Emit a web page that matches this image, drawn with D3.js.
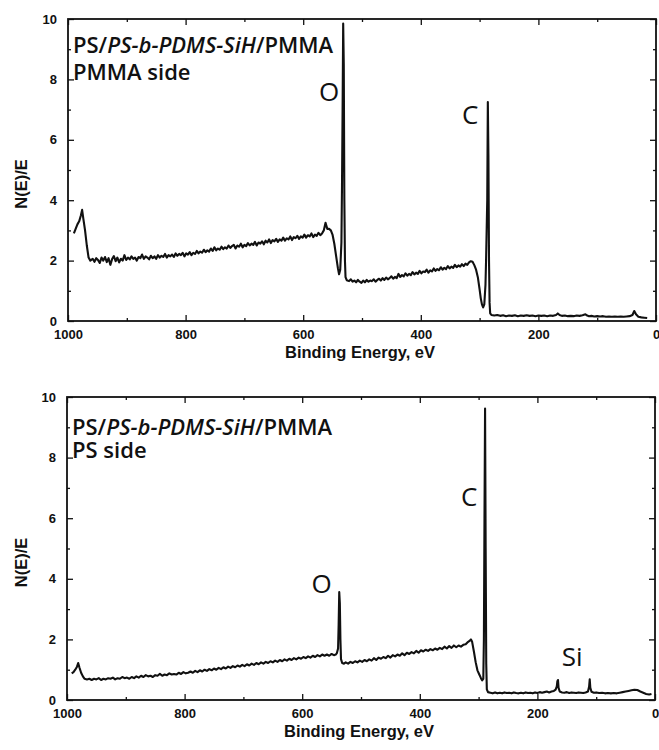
<!DOCTYPE html>
<html lang="en">
<head>
<meta charset="UTF-8">
<title>XPS survey</title>
<script src="https://cdn.jsdelivr.net/npm/d3@7"></script>
<style>
  body { margin: 0; background: #fff; }
  .tick text { font-family: "Liberation Sans", Arial, sans-serif; font-weight: bold; font-size: 13px; fill: #111; }
  .axTitle { font-family: "Liberation Sans", Arial, sans-serif; font-weight: bold; font-size: 16.5px; fill: #111; }
  .note { font-family: "Open Sans", "Noto Sans", sans-serif; font-weight: 600; font-size: 22px; fill: #111; }
  .peak { font-family: "Open Sans", "Noto Sans", sans-serif; font-weight: 400; font-size: 26px; fill: #111; }
</style>
</head>
<body>
<div id="chart"></div>
<script>
// spectra: [binding energy eV, N(E)/E]
const pmmaSide = [
  [990,2.90],[987,3.05],[984,3.20],[981,3.30],[978,3.50],[976,3.68],[974,3.40],[971,3.00],[968,2.50],[965,2.10],
  [962,2.00],[958,2.06],[955,1.96],[952,2.08],[949,2.02],[946,1.92],[943,2.10],[940,2.00],[937,2.12],[934,1.95],
  [931,2.08],[928,1.86],[925,2.05],[922,2.15],[919,1.98],[916,2.10],[913,1.94],[910,2.06],[907,2.00],[904,2.18],
  [901,2.02],[898,2.10],[895,2.04],[892,2.14],[889,2.06],[886,2.10],[883,2.00],[880,2.12],[877,2.08],[874,2.20],
  [871,2.06],[868,2.14],[865,2.10],[862,2.04],[859,2.16],[856,2.08],[853,2.14],[850,2.06],[847,2.18],[844,2.10],
  [841,2.16],[838,2.12],[835,2.22],[832,2.10],[829,2.18],[826,2.14],[823,2.20],[820,2.12],[817,2.24],[814,2.16],
  [811,2.22],[808,2.18],[805,2.26],[802,2.14],[799,2.24],[796,2.20],[793,2.28],[790,2.18],[787,2.26],[784,2.22],
  [781,2.32],[778,2.24],[775,2.30],[772,2.26],[769,2.36],[766,2.28],[763,2.34],[760,2.30],[757,2.40],[754,2.32],
  [751,2.44],[748,2.34],[745,2.40],[742,2.36],[739,2.46],[736,2.38],[733,2.44],[730,2.40],[727,2.50],[724,2.42],
  [721,2.48],[718,2.52],[715,2.40],[712,2.50],[709,2.46],[706,2.56],[703,2.44],[700,2.52],[697,2.48],[694,2.58],
  [691,2.50],[688,2.56],[685,2.52],[682,2.62],[679,2.50],[676,2.60],[673,2.56],[670,2.64],[667,2.54],[664,2.66],
  [661,2.60],[658,2.70],[655,2.58],[652,2.68],[649,2.64],[646,2.72],[643,2.62],[640,2.70],[637,2.66],[634,2.76],
  [631,2.66],[628,2.74],[625,2.70],[622,2.80],[619,2.68],[616,2.78],[613,2.74],[610,2.82],[607,2.72],[604,2.80],
  [601,2.76],[598,2.86],[595,2.76],[592,2.84],[589,2.80],[586,2.90],[583,2.78],[580,2.86],[577,2.82],[574,2.92],
  [571,2.84],[568,2.90],[565,3.00],[562,3.25],[559,3.05],[556,3.05],[553,3.00],[550,2.85],[547,2.55],[544,2.15],
  [541,1.75],[539,1.55],[537,1.70],[535,2.60],[534,4.50],[533,7.00],[532,9.85],[531,8.50],[530,4.00],[529,2.00],
  [528,1.45],[526,1.35],[522,1.32],[519,1.38],[516,1.30],[513,1.34],[510,1.28],[507,1.36],[504,1.30],[501,1.26],
  [498,1.34],[495,1.28],[492,1.36],[489,1.30],[486,1.34],[483,1.32],[480,1.38],[477,1.30],[474,1.36],[471,1.40],
  [468,1.34],[465,1.42],[462,1.36],[459,1.44],[456,1.38],[453,1.42],[450,1.48],[447,1.40],[444,1.46],[441,1.42],
  [438,1.56],[435,1.46],[432,1.52],[429,1.48],[426,1.58],[423,1.50],[420,1.56],[417,1.52],[414,1.62],[411,1.54],
  [408,1.60],[405,1.56],[402,1.66],[399,1.58],[396,1.64],[393,1.62],[390,1.70],[387,1.60],[384,1.68],[381,1.64],
  [378,1.74],[375,1.66],[372,1.72],[369,1.68],[366,1.78],[363,1.70],[360,1.76],[357,1.72],[354,1.82],[351,1.74],
  [348,1.80],[345,1.76],[342,1.86],[339,1.78],[336,1.84],[333,1.80],[330,1.88],[327,1.82],[324,1.90],[321,1.86],
  [318,1.94],[315,1.98],[312,1.96],[309,1.85],[306,1.70],[303,1.45],[300,1.05],[298,0.75],[296,0.55],[294,0.45],
  [292,0.55],[290,1.20],[289,2.00],[287,4.00],[286,7.25],[285,5.50],[284,2.00],[283,0.60],[282,0.25],[280,0.20],
  [275,0.18],[270,0.20],[265,0.17],[260,0.19],[255,0.16],[250,0.18],[245,0.17],[240,0.19],[235,0.16],[230,0.18],
  [225,0.17],[220,0.19],[215,0.17],[210,0.18],[205,0.16],[200,0.18],[195,0.17],[190,0.18],[185,0.16],[180,0.18],
  [175,0.17],[170,0.20],[167,0.25],[164,0.20],[160,0.17],[155,0.18],[150,0.16],[145,0.17],[140,0.16],[135,0.18],
  [130,0.17],[125,0.19],[120,0.22],[117,0.18],[114,0.16],[110,0.17],[105,0.15],[100,0.16],[95,0.15],[90,0.16],
  [85,0.14],[80,0.15],[75,0.14],[70,0.15],[65,0.14],[60,0.15],[55,0.14],[50,0.15],[45,0.16],[40,0.20],
  [37,0.33],[34,0.22],[30,0.14],[25,0.12],[20,0.11],[15,0.10]
];

const psSide = [
  [992,0.88],[989,0.92],[986,1.00],[983,1.10],[981,1.22],[979,1.08],[976,0.90],[973,0.78],[970,0.70],[966,0.68],
  [962,0.70],[958,0.66],[954,0.70],[950,0.68],[946,0.72],[942,0.66],[938,0.70],[934,0.68],[930,0.72],[926,0.70],
  [922,0.74],[918,0.68],[914,0.72],[910,0.70],[906,0.76],[902,0.72],[898,0.74],[894,0.70],[890,0.76],[886,0.72],
  [882,0.78],[878,0.74],[874,0.80],[870,0.76],[866,0.82],[862,0.78],[858,0.80],[854,0.76],[850,0.82],[846,0.80],
  [842,0.86],[838,0.80],[834,0.84],[830,0.82],[826,0.88],[822,0.84],[818,0.86],[814,0.84],[810,0.90],[806,0.86],
  [802,0.92],[798,0.88],[794,0.90],[790,0.94],[786,0.90],[782,0.96],[778,0.92],[774,0.98],[770,0.94],[766,1.00],
  [762,0.96],[758,1.02],[754,0.98],[750,1.04],[746,1.00],[742,1.06],[738,1.02],[734,1.08],[730,1.04],[726,1.10],
  [722,1.06],[718,1.12],[714,1.08],[710,1.14],[706,1.10],[702,1.16],[698,1.12],[694,1.18],[690,1.14],[686,1.20],
  [682,1.16],[678,1.22],[674,1.18],[670,1.24],[666,1.20],[662,1.26],[658,1.22],[654,1.28],[650,1.24],[646,1.30],
  [642,1.26],[638,1.32],[634,1.28],[630,1.34],[626,1.30],[622,1.36],[618,1.32],[614,1.38],[610,1.34],[606,1.40],
  [602,1.36],[598,1.42],[594,1.38],[590,1.44],[586,1.40],[582,1.46],[578,1.42],[574,1.48],[570,1.44],[566,1.50],
  [562,1.46],[558,1.50],[554,1.46],[550,1.52],[546,1.48],[543,1.50],[541,1.55],[539,1.70],[538,2.50],[537,3.56],
  [536,3.20],[535,2.00],[534,1.35],[532,1.22],[529,1.20],[526,1.24],[522,1.20],[518,1.26],[514,1.22],[510,1.28],
  [506,1.24],[502,1.30],[498,1.26],[494,1.32],[490,1.28],[486,1.34],[482,1.30],[478,1.38],[474,1.32],[470,1.40],
  [466,1.36],[462,1.42],[458,1.38],[454,1.46],[450,1.40],[446,1.48],[442,1.44],[438,1.50],[434,1.46],[430,1.54],
  [426,1.48],[422,1.56],[418,1.52],[414,1.58],[410,1.54],[406,1.62],[402,1.56],[398,1.64],[394,1.60],[390,1.66],
  [386,1.62],[382,1.68],[378,1.64],[374,1.70],[370,1.66],[366,1.72],[362,1.68],[358,1.76],[354,1.70],[350,1.78],
  [346,1.72],[342,1.80],[338,1.74],[334,1.80],[330,1.76],[326,1.82],[322,1.84],[319,1.90],[316,1.94],[313,2.00],
  [311,1.92],[308,1.60],[305,1.25],[302,0.98],[299,0.85],[296,0.72],[294,0.65],[292,0.70],[291,2.00],[290,6.00],
  [289,9.62],[288,5.00],[287,1.20],[286,0.35],[284,0.26],[280,0.24],[276,0.22],[272,0.25],[268,0.22],[264,0.24],
  [260,0.22],[256,0.25],[252,0.23],[248,0.24],[244,0.22],[240,0.25],[236,0.23],[232,0.22],[228,0.24],[224,0.22],
  [220,0.25],[216,0.23],[212,0.24],[208,0.22],[204,0.25],[200,0.23],[196,0.26],[192,0.24],[188,0.26],[184,0.28],
  [180,0.25],[176,0.28],[172,0.30],[169,0.34],[167,0.45],[166,0.62],[165,0.66],[164,0.40],[162,0.28],[158,0.25],
  [154,0.24],[150,0.26],[146,0.23],[142,0.25],[138,0.24],[134,0.23],[130,0.25],[126,0.24],[122,0.23],[118,0.25],
  [114,0.28],[112,0.45],[111,0.68],[110,0.40],[108,0.27],[104,0.24],[100,0.25],[95,0.23],[90,0.24],[85,0.22],
  [80,0.23],[75,0.22],[70,0.23],[65,0.22],[60,0.24],[55,0.26],[50,0.28],[45,0.30],[40,0.32],[35,0.34],
  [30,0.33],[25,0.28],[20,0.24],[15,0.20],[10,0.18],[6,0.20]
];

const xMajor = [1000, 800, 600, 400, 200, 0];
const xMinor = [900, 700, 500, 300, 100];
const yMajor = [0, 2, 4, 6, 8, 10];
const yMinor = [1, 3, 5, 7, 9];

// sample name, middle part set in italics
const titleParts = ['PS/', 'PS-b-PDMS-SiH', '/PMMA'];
const sideTop = 'PMMA side';
const sideBottom = 'PS side';

// peak labels: [text, energy, N(E)/E]
const peaksTop = [['O', 556, 7.6], ['C', 316, 6.85]];
const peaksBottom = [['O', 567, 3.86], ['C', 316, 6.72], ['Si', 141, 1.45]];

var width = 659, height = 750;

var svg = d3.select('#chart').append('svg')
    .attr('width', width)
    .attr('height', height);

function panel(data, sub, peaks, box) {
    var x = d3.scaleLinear().domain([1000, 0]).range([box.left, box.right]);
    var y = d3.scaleLinear().domain([0, 10]).range([box.bottom, box.top]);
    var g = svg.append('g');

    // inward ticks on all four sides
    g.append('g').attr('transform', `translate(0,${box.bottom})`)
        .call(d3.axisBottom(x).tickValues(xMajor).tickSize(-6).tickPadding(9).tickFormat(d3.format('d')));
    g.append('g').attr('transform', `translate(0,${box.bottom})`)
        .call(d3.axisBottom(x).tickValues(xMinor).tickSize(-3).tickFormat(''));
    g.append('g').attr('transform', `translate(0,${box.top})`)
        .call(d3.axisTop(x).tickValues(xMajor).tickSize(-6).tickFormat(''));
    g.append('g').attr('transform', `translate(0,${box.top})`)
        .call(d3.axisTop(x).tickValues(xMinor).tickSize(-3).tickFormat(''));
    g.append('g').attr('transform', `translate(${box.left},0)`)
        .call(d3.axisLeft(y).tickValues(yMajor).tickSize(-6).tickPadding(11).tickFormat(d3.format('d')));
    g.append('g').attr('transform', `translate(${box.left},0)`)
        .call(d3.axisLeft(y).tickValues(yMinor).tickSize(-3).tickFormat(''));
    g.append('g').attr('transform', `translate(${box.right},0)`)
        .call(d3.axisRight(y).tickValues(yMajor).tickSize(-6).tickFormat(''));
    g.append('g').attr('transform', `translate(${box.right},0)`)
        .call(d3.axisRight(y).tickValues(yMinor).tickSize(-3).tickFormat(''));

    g.selectAll('.domain').remove();
    g.selectAll('.tick line').attr('stroke', '#111').attr('stroke-width', 1.3);

    g.append('rect')
        .attr('x', box.left).attr('y', box.top)
        .attr('width', box.right - box.left).attr('height', box.bottom - box.top)
        .attr('fill', 'none').attr('stroke', '#111').attr('stroke-width', 1.8);

    var line = d3.line().x(d => x(d[0])).y(d => y(d[1]));
    g.append('path')
        .datum(data)
        .attr('d', line)
        .attr('fill', 'none')
        .attr('stroke', '#111')
        .attr('stroke-width', 2.1)
        .attr('stroke-linejoin', 'round');

    // sample name and side: one text block, two lines
    var t = g.append('text').attr('class', 'note')
        .attr('x', box.left + 5).attr('y', box.top + box.titleDy);
    titleParts.forEach((s, i) => {
        t.append('tspan')
            .style('font-style', i === 1 ? 'italic' : 'normal')
            .text(s);
    });
    t.append('tspan')
        .attr('x', box.left + 5)
        .attr('dy', box.lineGap)
        .text(sub);

    g.selectAll('.peak')
        .data(peaks)
        .join('text')
        .attr('class', 'peak')
        .attr('x', d => x(d[1]))
        .attr('y', d => y(d[2]))
        .attr('text-anchor', 'middle')
        .attr('dominant-baseline', 'central')
        .text(d => d[0]);

    g.append('text').attr('class', 'axTitle')
        .attr('x', (box.left + box.right) / 2 - 2)
        .attr('y', box.bottom + 37)
        .attr('text-anchor', 'middle')
        .text('Binding Energy, eV');

    g.append('text').attr('class', 'axTitle')
        .attr('transform', `translate(27,${(box.top + box.bottom) / 2 + 14}) rotate(-90)`)
        .attr('text-anchor', 'middle')
        .text('N(E)/E');
}

panel(pmmaSide, sideTop, peaksTop, {left: 68, right: 656, top: 19, bottom: 321, titleDy: 34, lineGap: 27});
panel(psSide, sideBottom, peaksBottom, {left: 67, right: 655, top: 397, bottom: 700, titleDy: 38, lineGap: 23});
</script>
</body>
</html>
